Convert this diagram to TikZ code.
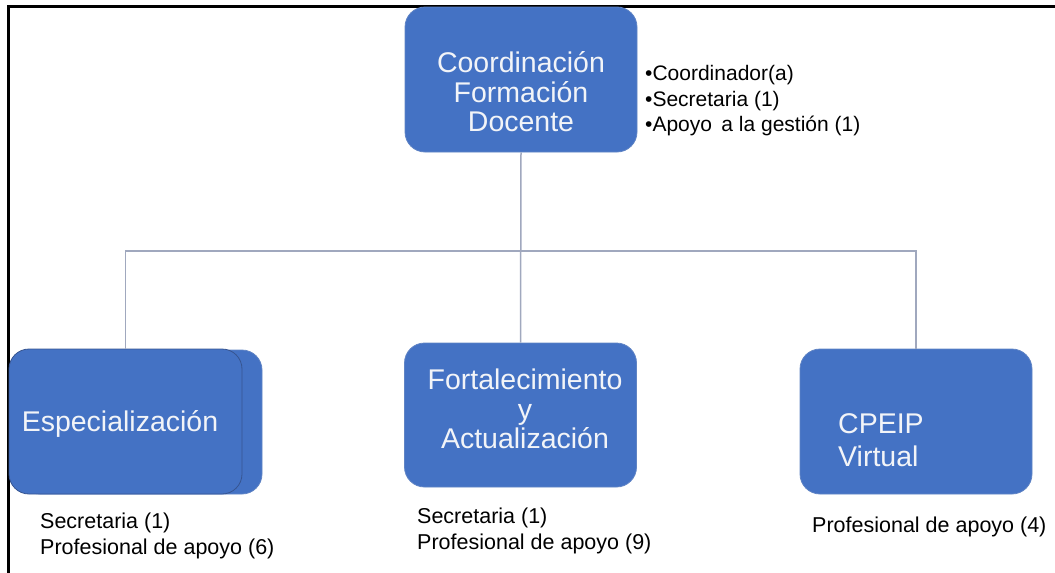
\documentclass[tikz,border=0pt]{standalone}
\usepackage{fontspec}
\setmainfont{Liberation Sans}
\definecolor{boxblue}{RGB}{68,114,196}
\definecolor{boxedge}{RGB}{96,132,196}
\definecolor{boxdark}{RGB}{55,85,145}
\definecolor{conn}{RGB}{160,168,190}
\definecolor{boxtext}{RGB}{242,244,248}
\begin{document}
\begin{tikzpicture}[x=1pt,y=-1pt,
  orgbox/.style={draw=boxedge,line width=0.8pt,fill=boxblue,rounded corners=20pt,
    minimum width=232pt,minimum height=145pt,inner sep=0pt},
  boxlabel/.style={text=boxtext,font=\fontsize{28.5}{29.5}\selectfont,inner sep=0pt,align=center},
  note/.style={text=black,font=\fontsize{21.5}{26}\selectfont,inner sep=0pt,align=left,anchor=west},
  link/.style={draw=conn,line width=1.5pt}]
\useasboundingbox (0,0) rectangle (1055,573);
% frame
\draw[line width=3pt] (1055,6) -- (8,6) -- (8,573);
% boxes
\node[orgbox] (top) at (521,79.5) {};
\node[orgbox,minimum height=144pt] (fort) at (520.5,415) {};
\node[orgbox] (cpeip) at (916,421.5) {};
\node[orgbox,draw=boxedge,minimum width=242pt,minimum height=144pt] (espback) at (141,422) {};
\node[orgbox,draw=boxdark,minimum width=233pt] (esp) at (125.5,421.5) {};
% connectors
\coordinate (hy) at (0,251);
\draw[link] (top.south) -- (fort.north);
\draw[link] (esp.north) -- (esp.north |- hy) -- (cpeip.north |- hy) -- (cpeip.north);
% box texts
\node[boxlabel] (toptxt) at (521,92) {Coordinación\\Formación\\Docente};
\node[boxlabel] (forttxt) at (525,409) {Fortalecimiento\\y\\Actualización};
\node[boxlabel,align=left,anchor=west,font=\fontsize{28.5}{33}\selectfont] (cpeiptxt) at (838,440) {CPEIP\\Virtual};
\node[boxlabel] (esptxt) at (120,424) {Especialización};
% notes
\node[note,font=\fontsize{21}{25.5}\selectfont] (topnote) at (645,101) {•Coordinador(a)\\•Secretaria (1)\\•Apoyo\, a la gestión (1)};
\node[note] (espnote) at (40,536) {Secretaria (1)\\Profesional de apoyo (6)};
\node[note] (fortnote) at (417,531) {Secretaria (1)\\Profesional de apoyo (9)};
\node[note] (cpeipnote) at (812,527) {Profesional de apoyo (4)};
\end{tikzpicture}
\end{document}
